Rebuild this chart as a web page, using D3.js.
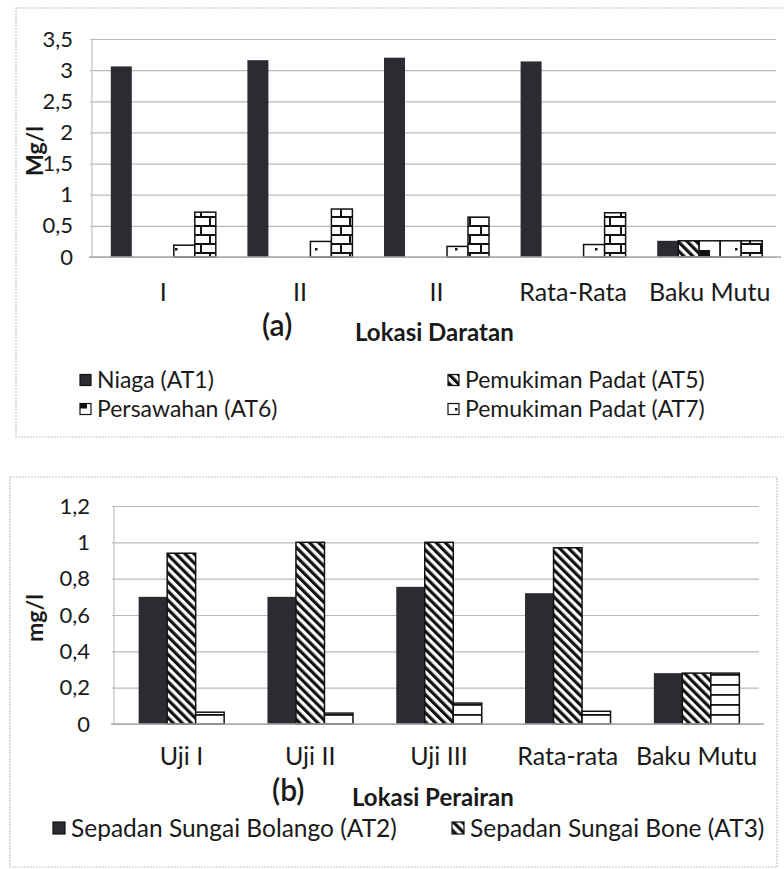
<!DOCTYPE html>
<html>
<head>
<meta charset="utf-8">
<script src="https://cdn.jsdelivr.net/npm/d3@7"></script>
<style>
  html, body { margin: 0; padding: 0; background: #fff; }
  svg { display: block; }
  text { font-family: Lato, "Open Sans", sans-serif; fill: #1a1a1a; }
</style>
</head>
<body>
<svg id="chart" width="784" height="869"></svg>
<script>
// ---- Panel (a): Lokasi Daratan ----
const daratanCategories = ["I", "II", "II", "Rata-Rata", "Baku Mutu"];
const niagaAT1        = [3.06, 3.16, 3.20, 3.14, 0.26];
const pemukimanAT5    = [0, 0, 0, 0, 0.26];
const persawahanAT6   = [0, 0, 0, 0, 0.26];
const pemukimanAT7    = [0.19, 0.25, 0.17, 0.20, 0.26];
const seriKelima      = [0.72, 0.77, 0.64, 0.71, 0.26];
const daratanTicks    = [0, 0.5, 1, 1.5, 2, 2.5, 3, 3.5];
const daratanLegend   = ["Niaga (AT1)", "Pemukiman Padat (AT5)", "Persawahan (AT6)", "Pemukiman Padat (AT7)"];

// ---- Panel (b): Lokasi Perairan ----
const perairanCategories = ["Uji I", "Uji II", "Uji III", "Rata-rata", "Baku Mutu"];
const bolangoAT2   = [0.70, 0.70, 0.755, 0.72, 0.28];
const boneAT3      = [0.94, 1.00, 1.00, 0.97, 0.28];
const seriKetiga   = [0.065, 0.06, 0.115, 0.07, 0.28];
const perairanTicks  = [0, 0.2, 0.4, 0.6, 0.8, 1, 1.2];
const perairanLegend = ["Sepadan Sungai Bolango (AT2)", "Sepadan Sungai Bone (AT3)"];

const locale = d3.formatLocale({decimal: ",", thousands: ".", grouping: [3], currency: ["Rp", ""]});
const fmt = locale.format("~g");

const svg = d3.select("#chart");
svg.append("rect").attr("width", 784).attr("height", 869).attr("fill", "#fff");

// ---- fill patterns ----
const defs = svg.append("defs");
const DARK = "#2a2c31";

// diagonal stripes (\)
const pDiag = defs.append("pattern").attr("id", "diag")
  .attr("patternUnits", "userSpaceOnUse").attr("width", 6.4).attr("height", 6.4)
  .attr("patternTransform", "rotate(-45)");
pDiag.append("rect").attr("width", 6.4).attr("height", 6.4).attr("fill", "#fff");
pDiag.append("rect").attr("width", 3.2).attr("height", 6.4).attr("fill", "#111");

// large checker blocks
const pCheck = defs.append("pattern").attr("id", "check")
  .attr("patternUnits", "userSpaceOnUse").attr("width", 20).attr("height", 20);
pCheck.append("rect").attr("width", 20).attr("height", 20).attr("fill", "#fff");
pCheck.append("rect").attr("x", 0).attr("y", 10).attr("width", 10).attr("height", 10).attr("fill", "#111");

// same blocks, shifted for the small legend key
const pCheckKey = defs.append("pattern").attr("id", "checkKey")
  .attr("patternUnits", "userSpaceOnUse").attr("width", 20).attr("height", 20)
  .attr("x", 80).attr("y", 403.5);
pCheckKey.append("rect").attr("width", 20).attr("height", 20).attr("fill", "#fff");
pCheckKey.append("rect").attr("x", 0).attr("y", 0).attr("width", 7).attr("height", 5).attr("fill", "#111");

// sparse dots
const pDots = defs.append("pattern").attr("id", "dots")
  .attr("patternUnits", "userSpaceOnUse").attr("width", 20).attr("height", 20);
pDots.append("rect").attr("width", 20).attr("height", 20).attr("fill", "#fff");
pDots.append("rect").attr("x", 15).attr("y", 8).attr("width", 2.5).attr("height", 2.5).attr("fill", "#111");

// bricks
const pBrick = defs.append("pattern").attr("id", "brick")
  .attr("patternUnits", "userSpaceOnUse").attr("width", 20).attr("height", 18);
pBrick.append("rect").attr("width", 20).attr("height", 18).attr("fill", "#fff");
pBrick.append("rect").attr("x", 0).attr("y", 0).attr("width", 20).attr("height", 2).attr("fill", "#111");
pBrick.append("rect").attr("x", 0).attr("y", 9).attr("width", 20).attr("height", 2).attr("fill", "#111");
pBrick.append("rect").attr("x", 9).attr("y", 0).attr("width", 2).attr("height", 9).attr("fill", "#111");
pBrick.append("rect").attr("x", 0).attr("y", 9).attr("width", 2).attr("height", 9).attr("fill", "#111");

// horizontal lines
const pHoriz = defs.append("pattern").attr("id", "horiz")
  .attr("patternUnits", "userSpaceOnUse").attr("width", 10).attr("height", 10);
pHoriz.append("rect").attr("width", 10).attr("height", 10).attr("fill", "#fff");
pHoriz.append("rect").attr("x", 0).attr("y", 4).attr("width", 10).attr("height", 1.8).attr("fill", "#111");

function frame(x, y, w, h) {
  svg.append("rect").attr("x", x).attr("y", y).attr("width", w).attr("height", h)
    .attr("fill", "none").attr("stroke", "#c4c4c4").attr("stroke-width", 1.2)
    .attr("stroke-dasharray", "2,1");
}

function panel(cfg) {
  const g = svg.append("g");
  const idx = cfg.categories.map((c, i) => i);
  const x0 = d3.scaleBand().domain(idx).range([cfg.left, cfg.right]);
  const y = d3.scaleLinear().domain([0, cfg.max]).range([cfg.bottom, cfg.top]);

  // gridlines
  const grid = g.append("g").attr("transform", `translate(${cfg.left},0)`)
    .call(d3.axisLeft(y).tickValues(cfg.ticks).tickSize(-(cfg.right - cfg.left + 3)).tickFormat(""));
  grid.select(".domain").remove();
  grid.selectAll("line").attr("stroke", "#b9b9b9").attr("stroke-width", 1.2)
    .attr("transform", "translate(-5,0)");

  // vertical axis line
  g.append("line").attr("x1", cfg.left - 3).attr("x2", cfg.left - 3)
    .attr("y1", cfg.top).attr("y2", cfg.bottom)
    .attr("stroke", "#c2c2c2").attr("stroke-width", 1.2);

  // tick labels
  const yl = g.append("g").attr("transform", `translate(${cfg.tickX},0)`)
    .call(d3.axisLeft(y).tickValues(cfg.ticks).tickSize(0).tickPadding(0).tickFormat(fmt));
  yl.select(".domain").remove();
  yl.selectAll("text").attr("font-size", cfg.tickFont).attr("fill", "#222")
    .style("font-family", "Lato, 'Open Sans', sans-serif");

  // bars
  const inner = cfg.barW * cfg.series.length;
  cfg.series.forEach((s, si) => {
    g.append("g").selectAll("rect").data(s.values).join("rect")
      .attr("x", (d, i) => x0(i) + x0.bandwidth() / 2 - inner / 2 + si * cfg.barW)
      .attr("width", cfg.barW)
      .attr("y", d => y(d))
      .attr("height", d => y(0) - y(d))
      .attr("fill", s.fill)
      .attr("stroke", s.stroke)
      .attr("stroke-width", s.stroke === "none" ? 0 : 1.5)
      .attr("display", d => d > 0 ? null : "none");
  });

  // baseline
  g.append("line").attr("x1", cfg.left - 6).attr("x2", cfg.right + 3)
    .attr("y1", y(0)).attr("y2", y(0)).attr("stroke", "#a8a8a8").attr("stroke-width", 1.4);

  // category labels
  const xa = g.append("g").attr("transform", `translate(0,${cfg.labelY})`)
    .call(d3.axisBottom(x0).tickSize(0).tickPadding(0).tickFormat(i => cfg.categories[i]));
  xa.select(".domain").remove();
  xa.selectAll("text").attr("font-size", cfg.catFont).attr("fill", "#222")
    .style("font-family", "Lato, 'Open Sans', sans-serif");

  // y-axis title
  g.append("text").attr("transform", `translate(${cfg.yTitleX},${cfg.yTitleY}) rotate(-90)`)
    .attr("text-anchor", "middle").attr("font-size", 23).attr("font-weight", 700)
    .attr("fill", "#222").text(cfg.yTitle);

  // panel mark and x title
  g.append("text").attr("x", cfg.markX).attr("y", cfg.titleY - 5).attr("font-size", 30)
    .attr("font-weight", 600).text(cfg.mark);
  g.append("text").attr("x", cfg.titleX).attr("y", cfg.titleY).attr("font-size", 24)
    .attr("font-weight", 700).text(cfg.xTitle);
}

function legendItem(x, y, fill, label, size, box) {
  svg.append("rect").attr("x", x).attr("y", y - box / 2).attr("width", box).attr("height", box)
    .attr("fill", fill).attr("stroke", "#111").attr("stroke-width", 1.2);
  svg.append("text").attr("x", x + box + 6).attr("y", y).attr("dy", "0.35em")
    .attr("font-size", size).attr("fill", "#222").text(label);
}

// ---- draw panel (a) ----
frame(16, 8, 770, 429);
panel({
  categories: daratanCategories,
  series: [
    {values: niagaAT1, fill: DARK, stroke: "none"},
    {values: pemukimanAT5, fill: "url(#diag)", stroke: "#111"},
    {values: persawahanAT6, fill: "url(#check)", stroke: "#111"},
    {values: pemukimanAT7, fill: "url(#dots)", stroke: "#111"},
    {values: seriKelima, fill: "url(#brick)", stroke: "#111"}
  ],
  ticks: daratanTicks, max: 3.5,
  left: 95, right: 778, top: 39, bottom: 257,
  barW: 21, tickX: 73, tickFont: 22, catFont: 25, labelY: 283,
  yTitle: "Mg/l", yTitleX: 43, yTitleY: 151,
  mark: "(a)", markX: 262, xTitle: "Lokasi Daratan", titleX: 355, titleY: 341
});
legendItem(80, 380, DARK, daratanLegend[0], 23, 11);
legendItem(448, 380, "url(#diag)", daratanLegend[1], 23, 11);
legendItem(80, 409, "url(#checkKey)", daratanLegend[2], 23, 11);
legendItem(448, 409, "url(#dots)", daratanLegend[3], 23, 11);

// ---- draw panel (b) ----
frame(10, 477, 767, 390);
panel({
  categories: perairanCategories,
  series: [
    {values: bolangoAT2, fill: DARK, stroke: "none"},
    {values: boneAT3, fill: "url(#diag)", stroke: "#111"},
    {values: seriKetiga, fill: "url(#horiz)", stroke: "#111"}
  ],
  ticks: perairanTicks, max: 1.2,
  left: 117, right: 761, top: 506, bottom: 724,
  barW: 28.5, tickX: 90, tickFont: 22, catFont: 25, labelY: 747,
  yTitle: "mg/l", yTitleX: 43, yTitleY: 618,
  mark: "(b)", markX: 272, xTitle: "Lokasi Perairan", titleX: 352, titleY: 806
});
legendItem(53, 828, DARK, perairanLegend[0], 24.5, 12);
legendItem(452, 828, "url(#diag)", perairanLegend[1], 24.5, 12);
</script>
</body>
</html>
